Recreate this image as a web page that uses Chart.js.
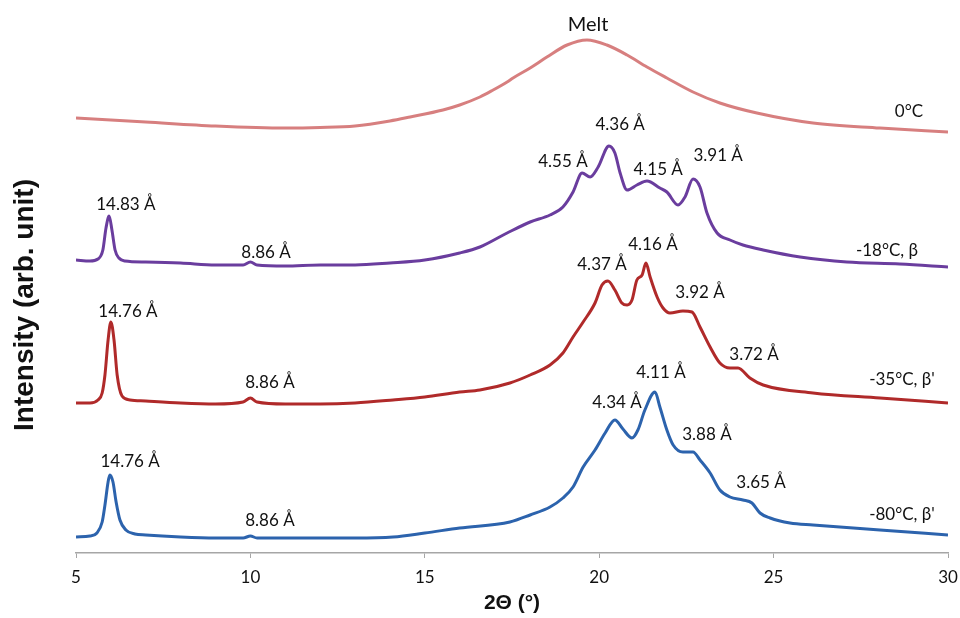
<!DOCTYPE html>
<html>
<head>
<meta charset="utf-8">
<script src="https://cdn.jsdelivr.net/npm/chart.js@4.4.1/dist/chart.umd.min.js"></script>
<style>
  html, body { margin: 0; padding: 0; background: #fff; }
  #wrap { width: 960px; height: 618px; }
</style>
</head>
<body>
<div id="wrap"><canvas id="xrd"></canvas></div>
<script>
// 2θ (°) and intensity (arb. unit, curves stacked with offsets)
const thetaMelt = [5.0, 7.0, 9.0, 11.0, 12.0, 13.0, 14.0, 14.58, 15.52, 16.0, 16.58, 16.96, 17.36, 17.53, 18.02, 18.5, 19.08, 19.65, 20.22, 20.8, 21.37, 21.94, 22.69, 23.46, 24.52, 26.13, 28.05, 30.0];
const intMelt = [435, 431, 427, 425, 425.5, 427, 432, 436, 443, 448, 456, 463, 471, 475, 485, 496, 508, 513, 508, 498, 486, 475, 461, 450, 440, 430, 425, 421];

const theta18 = [5.0, 5.4, 5.63, 5.77, 5.86, 5.95, 6.03, 6.12, 6.23, 6.4, 7.0, 8.0, 9.0, 9.79, 10.0, 10.19, 11.0, 12.0, 13.0, 14.0, 15.0, 16.0, 16.58, 17.36, 18.02, 18.59, 18.96, 19.25, 19.51, 19.74, 19.97, 20.28, 20.45, 20.6, 20.8, 21.08, 21.37, 21.74, 21.94, 22.26, 22.46, 22.69, 22.89, 23.09, 23.38, 23.75, 24.12, 24.7, 25.76, 27.1, 28.62, 30.0];
const int18 = [293, 292, 294, 303, 325, 337, 323, 303, 295, 292, 291, 290, 288, 288, 291, 288, 287, 288, 288, 290, 293, 300, 306, 320, 331, 338, 346, 361, 380, 376, 386, 407, 400, 380, 363, 368, 372, 365, 361, 348, 356, 374, 366, 340, 320, 313, 308, 303, 296, 291, 289, 286];

const theta35 = [5.0, 5.4, 5.63, 5.75, 5.83, 5.92, 6.0, 6.09, 6.18, 6.32, 6.55, 7.0, 8.0, 9.0, 9.79, 10.0, 10.19, 11.0, 12.0, 13.0, 14.09, 15.0, 16.0, 16.58, 17.44, 18.02, 18.59, 18.96, 19.25, 19.54, 19.88, 20.08, 20.25, 20.45, 20.65, 20.8, 20.94, 21.08, 21.23, 21.34, 21.46, 21.66, 21.83, 22.03, 22.4, 22.66, 22.89, 23.18, 23.46, 23.75, 23.98, 24.32, 24.7, 26.13, 28.05, 30.0];
const int35 = [150, 150, 153, 160, 178, 213, 231, 213, 178, 157, 153, 152, 150, 149, 151, 155, 151, 149, 149, 150, 153, 156, 161, 163, 170, 178, 188, 200, 216, 231, 250, 268, 272, 263, 250, 248, 253, 273, 278, 290, 276, 256, 245, 240, 242, 241, 226, 206, 190, 185, 185, 175, 168, 160, 155, 150];

const theta80 = [5.0, 5.4, 5.6, 5.75, 5.83, 5.92, 5.97, 6.06, 6.15, 6.26, 6.43, 6.69, 7.0, 8.0, 9.0, 9.79, 10.0, 10.19, 11.0, 12.0, 13.0, 14.09, 15.0, 16.0, 17.44, 18.02, 18.59, 18.96, 19.25, 19.54, 19.88, 20.17, 20.45, 20.68, 20.94, 21.11, 21.31, 21.6, 21.74, 21.94, 22.12, 22.4, 22.69, 22.89, 23.18, 23.46, 23.75, 24.12, 24.38, 24.61, 24.9, 25.47, 26.13, 28.05, 30.0];
const int80 = [16, 17, 20, 31, 48, 71, 78, 71, 51, 33, 23, 19, 18, 16, 15, 15, 17, 15, 15, 15, 15, 16, 20, 25, 31, 38, 46, 55, 66, 86, 103, 120, 133, 124, 115, 123, 143, 161, 146, 123, 108, 101, 101, 93, 80, 63, 56, 53, 50, 40, 35, 30, 28, 23, 18];

const xTicks = [5, 10, 15, 20, 25, 30];

// text labels: [text, 2θ, intensity]
const peakLabels = [
  ['0°C', 28.88, 441],
  ['14.83 Å', 6.43, 348], ['8.86 Å', 10.45, 300], ['4.55 Å', 18.96, 391], ['4.36 Å', 20.6, 428],
  ['4.15 Å', 21.69, 383], ['3.91 Å', 23.41, 397], ['-18°C, β', 28.25, 302],
  ['14.76 Å', 6.49, 241], ['8.86 Å', 10.56, 170], ['4.37 Å', 20.08, 288], ['4.16 Å', 21.54, 308],
  ['3.92 Å', 22.89, 260], ['3.72 Å', 24.44, 198], ["-35°C, β'", 28.68, 173],
  ['14.76 Å', 6.55, 91], ['8.86 Å', 10.56, 32], ['4.34 Å', 20.51, 150], ['4.11 Å', 21.77, 180],
  ['3.88 Å', 23.09, 118], ['3.65 Å', 24.64, 70], ["-80°C, β'", 28.68, 38]
];
const meltLabel = ['Melt', 19.68, 528];

function pts(xs, ys) {
  return xs.map((x, i) => ({ x: x, y: ys[i] }));
}

// draws the peak labels and the y-axis title
const textPlugin = {
  id: 'textPlugin',
  afterDraw(chart) {
    const c = chart.ctx;
    const sx = chart.scales.x, sy = chart.scales.y;
    c.save();
    c.fillStyle = '#111';
    c.textAlign = 'center';
    c.textBaseline = 'middle';
    c.font = '17px Lato';
    peakLabels.forEach(l => {
      c.fillText(l[0], sx.getPixelForValue(l[1]), sy.getPixelForValue(l[2]));
    });
    c.font = '20px Lato';
    c.fillText(meltLabel[0], sx.getPixelForValue(meltLabel[1]), sy.getPixelForValue(meltLabel[2]));

    c.translate(25, 305);
    c.rotate(-Math.PI / 2);
    c.font = 'bold 28px "Liberation Sans"';
    c.fillText('Intensity (arb. unit)', 0, 0);
    c.restore();
  }
};

const ds = (data, color) => ({
  data: data,
  borderColor: color,
  borderWidth: 3,
  pointRadius: 0,
  fill: false,
  cubicInterpolationMode: 'monotone'
});

new Chart(document.getElementById('xrd'), {
  type: 'line',
  data: {
    datasets: [
      ds(pts(thetaMelt, intMelt), '#d77f7f'),
      ds(pts(theta18, int18), '#6a3d9e'),
      ds(pts(theta35, int35), '#b02a2a'),
      ds(pts(theta80, int80), '#2c63ad')
    ]
  },
  options: {
    responsive: true,
    maintainAspectRatio: false,
    animation: false,
    layout: { padding: { left: 76, right: 12, top: 0, bottom: 0 } },
    plugins: { legend: { display: false }, tooltip: { enabled: false } },
    scales: {
      x: {
        type: 'linear',
        min: 5,
        max: 30,
        afterFit: s => { s.height = 65; s.paddingLeft = 0; s.paddingRight = 0; },
        afterBuildTicks: s => { s.ticks = xTicks.map(v => ({ value: v })); },
        grid: { drawOnChartArea: false, drawTicks: true, tickLength: 5, color: '#a6a6a6' },
        border: { display: true, color: '#a6a6a6', width: 1.5 },
        ticks: { font: { family: 'Lato', size: 17 }, color: '#111', padding: 9, maxRotation: 0 },
        title: {
          display: true,
          text: '2Θ (°)',
          font: { family: 'Liberation Sans', size: 21, weight: 'bold' },
          color: '#111',
          padding: { top: 0, bottom: 2 }
        }
      },
      y: {
        display: false,
        min: 0,
        max: 553
      }
    }
  },
  plugins: [textPlugin]
});
</script>
</body>
</html>
